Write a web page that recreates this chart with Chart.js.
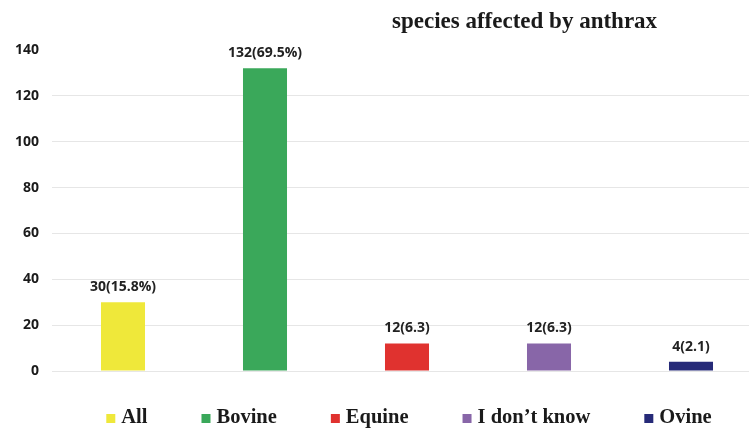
<!DOCTYPE html>
<html>
<head>
<meta charset="utf-8">
<script src="https://cdn.jsdelivr.net/npm/chart.js@4/dist/chart.umd.min.js"></script>
<style>
  html, body { margin: 0; padding: 0; background: #fff; overflow: hidden; }
  #wrap { width: 766px; height: 431px; position: relative; }
</style>
</head>
<body>
<div id="wrap"><canvas id="chart"></canvas></div>
<script>
// Species reported as affected by anthrax
const categories = ['All', 'Bovine', 'Equine', "I don\u2019t know", 'Ovine'];
const counts = [30, 132, 12, 12, 4];
const valueLabels = ['30(15.8%)', '132(69.5%)', '12(6.3)', '12(6.3)', '4(2.1)'];
const yTicks = [0, 20, 40, 60, 80, 100, 120, 140];
const barColors = ['#efe83a', '#3aa85a', '#e0322f', '#8866a8', '#262a78'];
const chartTitle = 'species affected by anthrax';

const SERIF = '"Liberation Serif", "Times New Roman", serif';
const SANS = '"Open Sans", "Liberation Sans", Arial, sans-serif';

// value labels above each bar
const barValueLabels = {
  id: 'barValueLabels',
  afterDatasetsDraw(chart) {
    const { ctx } = chart;
    const meta = chart.getDatasetMeta(0);
    ctx.save();
    ctx.font = 'bold 14px ' + SANS;
    ctx.fillStyle = '#222';
    ctx.textAlign = 'center';
    ctx.textBaseline = 'bottom';
    meta.data.forEach((bar, i) => {
      ctx.fillText(valueLabels[i], bar.x, bar.y - 8);
    });
    ctx.restore();
  }
};

// heading text in the upper right
const headingText = {
  id: 'headingText',
  afterDraw(chart) {
    const { ctx } = chart;
    ctx.save();
    ctx.font = 'bold 23px ' + SERIF;
    ctx.fillStyle = '#1a1a1a';
    ctx.textAlign = 'left';
    ctx.textBaseline = 'alphabetic';
    ctx.fillText(chartTitle, 392, 28);
    ctx.restore();
  }
};

// one-row category key under the plot, centred on the plot area
const categoryKey = {
  id: 'categoryKey',
  afterDraw(chart) {
    const { ctx, chartArea } = chart;
    const box = 9, boxGap = 6, itemGap = 54;
    ctx.save();
    ctx.font = 'bold 20.5px ' + SERIF;
    ctx.textBaseline = 'alphabetic';
    ctx.textAlign = 'left';
    const widths = categories.map(c => ctx.measureText(c).width);
    const total = widths.reduce((s, w) => s + box + boxGap + w, 0) + itemGap * (categories.length - 1);
    let x = (chartArea.left + chartArea.right) / 2 - total / 2 + 2;
    const baseline = chartArea.bottom + 52;
    categories.forEach((c, i) => {
      ctx.fillStyle = barColors[i];
      ctx.fillRect(x, baseline - 9, box, box);
      x += box + boxGap;
      ctx.fillStyle = '#1a1a1a';
      ctx.fillText(c, x, baseline);
      x += widths[i] + itemGap;
    });
    ctx.restore();
  }
};

new Chart(document.getElementById('chart'), {
  type: 'bar',
  data: {
    labels: categories,
    datasets: [{
      label: chartTitle,
      data: counts,
      backgroundColor: barColors,
      borderWidth: 0,
      categoryPercentage: 1,
      barPercentage: 0.31
    }]
  },
  options: {
    responsive: true,
    maintainAspectRatio: false,
    animation: false,
    layout: { padding: { top: 50, left: 0, right: 4, bottom: 60 } },
    plugins: {
      title: { display: false },
      tooltip: { enabled: false },
      legend: { display: false }
    },
    scales: {
      x: {
        grid: { display: false, drawTicks: false },
        border: { display: false },
        ticks: { display: false }
      },
      y: {
        min: 0,
        max: 140,
        afterBuildTicks(axis) {
          axis.ticks = yTicks.map(v => ({ value: v }));
        },
        afterFit(axis) {
          axis.width = 52;
        },
        grid: {
          drawTicks: false,
          color: ctx => (ctx.tick && ctx.tick.value === 140) ? 'rgba(0,0,0,0)' : '#e6e6e6',
          lineWidth: 1
        },
        border: { display: false },
        ticks: {
          padding: 13,
          color: '#1a1a1a',
          font: { family: SANS, size: 14, weight: 'bold' }
        }
      }
    }
  },
  plugins: [barValueLabels, headingText, categoryKey]
});
</script>
</body>
</html>
